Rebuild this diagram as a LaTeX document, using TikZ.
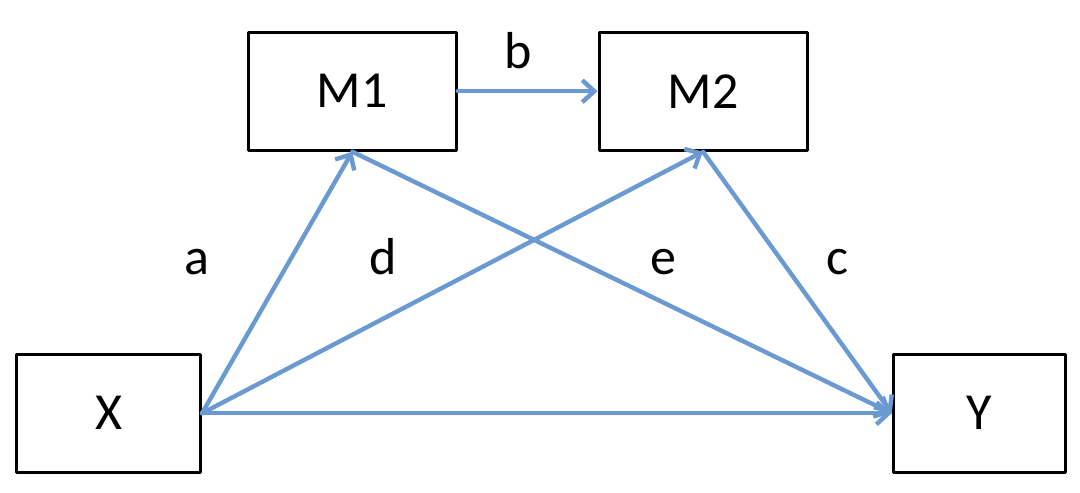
\documentclass[tikz,border=0pt]{standalone}
\usepackage{fontspec}
\setmainfont{Carlito}
\usetikzlibrary{arrows.meta}
\definecolor{pathblue}{RGB}{107,154,210}
\tikzset{
	varbox/.style={draw=black, line width=1.5pt, minimum height=59pt, inner sep=0pt},
	path/.style={draw=pathblue, line width=2.2pt, -{Straight Barb[length=6pt,width=11pt]}},
}
\begin{document}
\begin{tikzpicture}[x=0.5pt,y=0.5pt,font=\fontsize{26}{30}\selectfont, line join=round, line cap=round]
	\useasboundingbox (0,0) rectangle (1080,492);
	\node[varbox, minimum width=104pt] (m1) at (352.3,400.8) {M1};
	\node[varbox, minimum width=104pt] (m2) at (703,400.8) {M2};
	\node[varbox, minimum width=92pt] (x) at (108.5,78.7) {X};
	\node[varbox, minimum width=86pt] (y) at (979.2,78.7) {Y};
	\draw[path] (m1.east)--(m2.west);
	\draw[path] (x.east)--(m1.south);
	\draw[path] (x.east)--(m2.south);
	\draw[path] (x.east)--(y.west);
	\draw[path] (m1.south)--(y.west);
	\draw[path] (m2.south)--(y.west);
	\node[anchor=base] (la) at (197,217) {a};
	\node[anchor=base] (lb) at (518,423) {b};
	\node[anchor=base] (lc) at (837,217) {c};
	\node[anchor=base] (ld) at (383,217) {d};
	\node[anchor=base] (le) at (663,217) {e};
\end{tikzpicture}
\end{document}
